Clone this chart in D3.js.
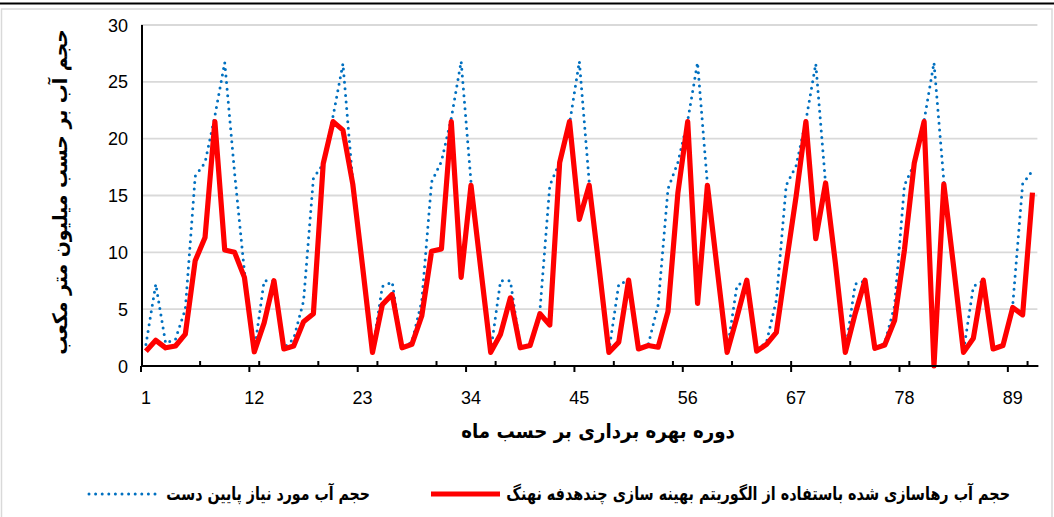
<!DOCTYPE html>
<html>
<head>
<meta charset="utf-8">
<script src="https://cdn.jsdelivr.net/npm/d3@7"></script>
<style>
  body { margin: 0; background: #fff; }
  svg { display: block; }
</style>
</head>
<body>
<div id="chart"></div>
<script>
// downstream water demand (dotted blue), million m3
const demand = [
  1.9, 7.2, 2.0, 2.35, 5.0, 16.7, 17.9, 22.0, 26.7, 17.0, 8.3, 1.3,
  7.5, 7.5, 1.6, 2.4, 5.7, 16.5, 17.8, 22.0, 26.6, 16.2, 8.7, 1.3,
  7.0, 7.4, 1.6, 2.1, 5.7, 16.2, 18.0, 21.8, 26.8, 16.2, 8.5, 1.3,
  7.5, 7.5, 1.6, 1.9, 4.9, 15.9, 17.9, 21.3, 26.8, 16.2, 8.7, 1.3,
  7.2, 7.5, 1.5, 1.9, 5.4, 15.6, 17.9, 21.6, 26.7, 16.0, 8.5, 1.3,
  7.1, 7.5, 1.4, 2.1, 5.8, 15.9, 17.6, 21.6, 26.6, 16.0, 9.0, 1.3,
  7.2, 7.5, 1.6, 2.0, 5.3, 15.9, 17.8, 21.6, 26.7, 16.3, 8.7, 1.3,
  7.0, 7.5, 1.5, 1.9, 5.4, 16.0, 17.2
];

// release from the multi-objective whale optimisation (solid red)
const release = [
  1.3, 2.26, 1.6, 1.76, 2.8, 9.26, 11.3, 21.5, 10.2, 10.0, 7.8, 1.25,
  3.8, 7.5, 1.5, 1.76, 3.9, 4.6, 17.8, 21.5, 20.75, 16.0, 8.7, 1.2,
  5.4, 6.3, 1.6, 1.9, 4.4, 10.1, 10.3, 21.5, 7.8, 15.9, 8.5, 1.2,
  2.8, 6.0, 1.6, 1.8, 4.6, 3.6, 17.9, 21.5, 12.9, 15.9, 8.7, 1.2,
  2.1, 7.55, 1.5, 1.8, 1.65, 4.8, 15.2, 21.5, 5.5, 15.9, 8.5, 1.2,
  4.3, 7.55, 1.3, 1.9, 2.95, 9.0, 14.9, 21.5, 11.2, 16.1, 9.0, 1.2,
  4.6, 7.55, 1.55, 1.85, 4.0, 10.2, 17.85, 21.5, 0, 16.0, 8.7, 1.2,
  2.45, 7.55, 1.5, 1.8, 5.15, 4.5, 15.25
];

const months = demand.map((d, i) => i + 1);
const xTickLabels = [1, 12, 23, 34, 45, 56, 67, 78, 89];
const yTicks = [0, 5, 10, 15, 20, 25, 30];

const xTitle = "دوره بهره برداری بر حسب ماه";
const yTitle = "حجم آب بر حسب میلیون متر مکعب";
const releaseName = "حجم آب رهاسازی شده باستفاده از الگوریتم بهینه سازی چندهدفه نهنگ";
const demandName = "حجم آب مورد نیاز پایین دست";

const W = 1054, H = 517;
const blue = "#0070c0", red = "#ff0000", grid = "#d9d9d9";
const faFont = "'DejaVu Sans', sans-serif";
const numFont = "'Liberation Sans', Arial, sans-serif";

const svg = d3.select("#chart").append("svg")
  .attr("width", W).attr("height", H);

svg.append("rect").attr("width", W).attr("height", H).attr("fill", "#fff");

// outer chart border + top rule
svg.append("rect")
  .attr("x", 1.5).attr("y", 9).attr("width", W - 3.5).attr("height", H + 20)
  .attr("fill", "none").attr("stroke", grid).attr("stroke-width", 1.5);
svg.append("line")
  .attr("x1", 0).attr("x2", W).attr("y1", 3.5).attr("y2", 3.5)
  .attr("stroke", "#000").attr("stroke-width", 2);

// ==== SCALES ====
const x = d3.scaleBand().domain(months).range([141, 1037.4]).padding(0);
const y = d3.scaleLinear().domain([0, 30]).range([366, 25]);
const cx = (m) => x(m) + x.bandwidth() / 2;
const xLeft = x.range()[0], xRight = x.range()[1];

// gridlines
svg.append("g").selectAll("line")
  .data(yTicks.filter((t) => t > 0))
  .enter().append("line")
  .attr("x1", xLeft).attr("x2", xRight)
  .attr("y1", (d) => y(d)).attr("y2", (d) => y(d))
  .attr("stroke", grid).attr("stroke-width", 1.8);

// y tick labels
svg.append("g").selectAll("text")
  .data(yTicks).enter().append("text")
  .attr("x", 128).attr("y", (d) => y(d) + 6.5)
  .attr("text-anchor", "end")
  .attr("font-family", numFont).attr("font-size", 18)
  .text((d) => d);

// ==== SERIES ====
const line = d3.line()
  .x((d, i) => cx(months[i]))
  .y((d) => y(d));

svg.append("path")
  .datum(demand)
  .attr("d", line)
  .attr("fill", "none")
  .attr("stroke", blue).attr("stroke-width", 3)
  .attr("stroke-linecap", "round")
  .attr("stroke-dasharray", "0 6.6");

svg.append("path")
  .datum(release)
  .attr("d", line)
  .attr("fill", "none")
  .attr("stroke", red).attr("stroke-width", 5.2)
  .attr("stroke-linejoin", "round");

// ==== AXES ====
svg.append("line")
  .attr("x1", 142).attr("x2", 142).attr("y1", y(30)).attr("y2", y(0) + 1)
  .attr("stroke", "#000").attr("stroke-width", 2);
svg.append("line")
  .attr("x1", xLeft).attr("x2", xRight + 1).attr("y1", y(0)).attr("y2", y(0))
  .attr("stroke", "#000").attr("stroke-width", 2);

// outward ticks on category boundaries every 11 months
svg.append("g").selectAll("line")
  .data(xTickLabels).enter().append("line")
  .attr("x1", (d) => x(d)).attr("x2", (d) => x(d))
  .attr("y1", y(0)).attr("y2", y(0) + 6)
  .attr("stroke", "#000").attr("stroke-width", 2);

// inward ticks every 6 months
const innerTicks = months.filter((m) => (m - 1) % 6 === 0 && m > 1);
svg.append("g").selectAll("line")
  .data(innerTicks).enter().append("line")
  .attr("x1", (d) => x(d)).attr("x2", (d) => x(d))
  .attr("y1", y(0)).attr("y2", y(0) - 5)
  .attr("stroke", "#000").attr("stroke-width", 2);

// x tick labels
svg.append("g").selectAll("text")
  .data(xTickLabels).enter().append("text")
  .attr("x", (d) => cx(d)).attr("y", 404)
  .attr("text-anchor", "middle")
  .attr("font-family", numFont).attr("font-size", 18)
  .text((d) => d);

// bold Persian label, squeezed horizontally to span the given width
function label(tx, ty, rot, anchor, size, str, width) {
  const g = svg.append("g");
  const t = g.append("text")
    .attr("text-anchor", anchor)
    .attr("font-family", faFont).attr("font-weight", "bold")
    .attr("font-size", size)
    .text(str);
  const k = width / t.node().getComputedTextLength();
  g.attr("transform", `translate(${tx},${ty}) rotate(${rot}) scale(${k},1)`);
  return g;
}

// axis titles
label(598, 438, 0, "middle", 20, xTitle, 274);
label(67, 192, -90, "middle", 20, yTitle, 326);

// ==== LEGEND ====
const legY = 494;
svg.append("line")
  .attr("x1", 431).attr("x2", 500).attr("y1", legY).attr("y2", legY)
  .attr("stroke", red).attr("stroke-width", 5.2);
label(1010, legY + 6, 0, "end", 18, releaseName, 504);

svg.append("line")
  .attr("x1", 89).attr("x2", 160).attr("y1", legY).attr("y2", legY)
  .attr("stroke", blue).attr("stroke-width", 3)
  .attr("stroke-linecap", "round")
  .attr("stroke-dasharray", "0 6.6");
label(370, legY + 6, 0, "end", 18, demandName, 204);
</script>
</body>
</html>
